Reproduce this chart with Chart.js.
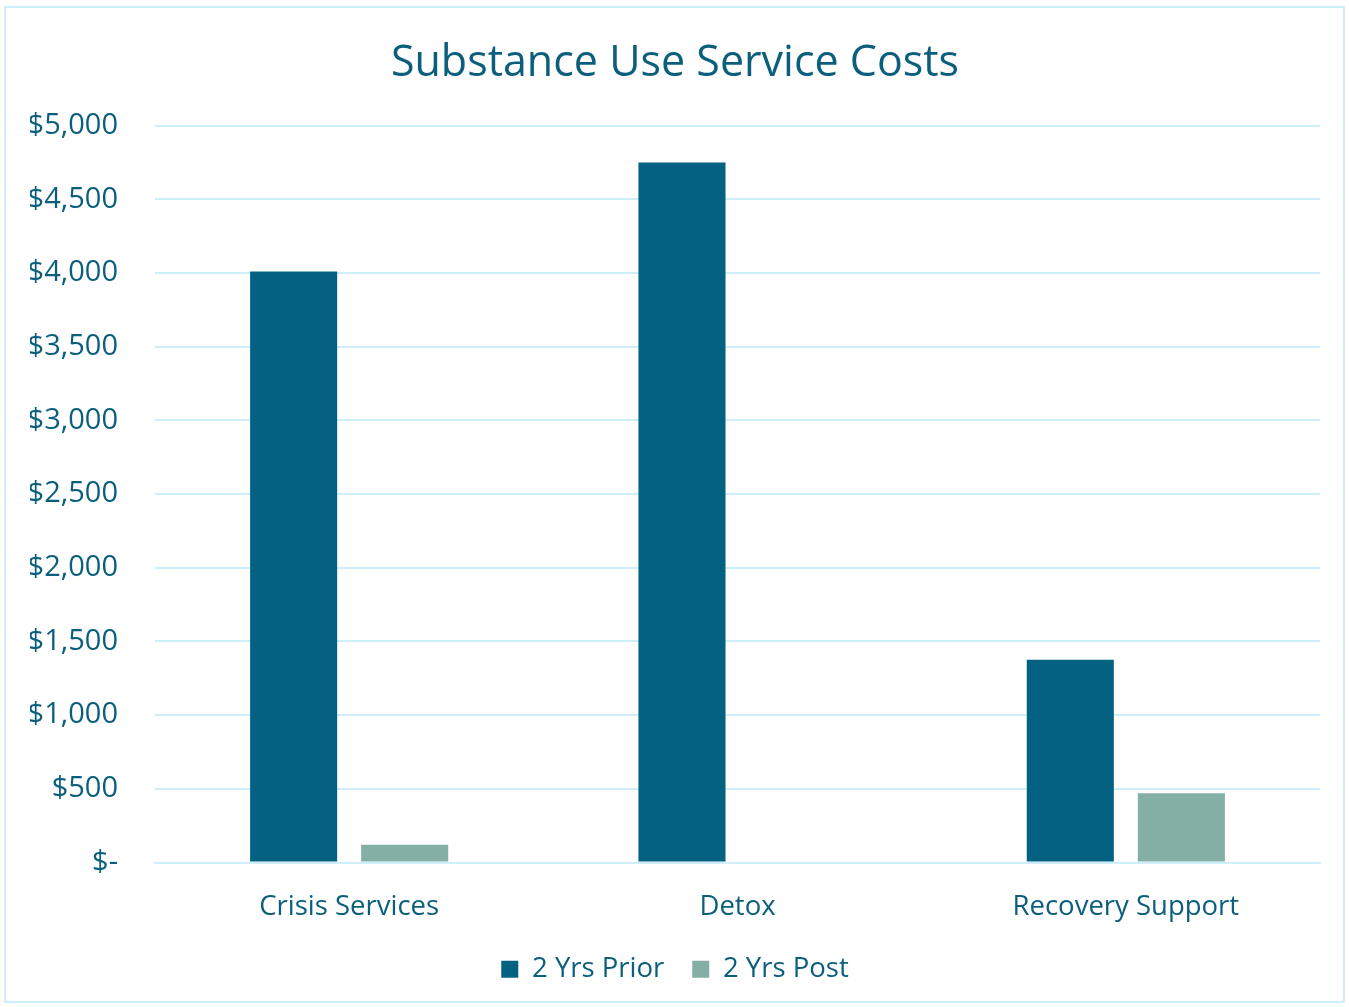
<!DOCTYPE html>
<html>
<head>
<meta charset="utf-8">
<script src="https://cdn.jsdelivr.net/npm/chart.js@4.4.0/dist/chart.umd.min.js"></script>
<style>
  html, body { margin: 0; padding: 0; background: #fff; }
  #wrap {
    position: absolute; left: 4px; top: 6px;
    width: 1341px; height: 997px;
    border: 2px solid #cdeefa;
    box-sizing: border-box;
  }
  canvas { display: block; }
</style>
</head>
<body>
<div id="wrap"><canvas id="costChart"></canvas></div>
<script>
// chart data
var categories = ["Crisis Services", "Detox", "Recovery Support"];
var priorValues = [4010, 4750, 1375];
var postValues = [120, 0, 470];
var seriesNames = ["2 Yrs Prior", "2 Yrs Post"];

var textColor = "#0b5f7d";
var gridColor = "#cdeefa";

document.addEventListener("DOMContentLoaded", function () {
  var ctx = document.getElementById("costChart").getContext("2d");
  Chart.defaults.font.family = "'Open Sans', 'Noto Sans', sans-serif";

  new Chart(ctx, {
    type: "bar",
    data: {
      labels: categories,
      datasets: [
        {
          label: seriesNames[0],
          data: priorValues,
          backgroundColor: "#036282",
          borderWidth: 0,
        },
        {
          label: seriesNames[1],
          data: postValues,
          backgroundColor: "#84afa5",
          borderWidth: 0,
        },
      ],
    },
    options: {
      responsive: true,
      maintainAspectRatio: false,
      animation: false,
      categoryPercentage: 0.572,
      barPercentage: 0.784,
      layout: { padding: { left: 24, right: 23, top: 20, bottom: 8 } },
      plugins: {
        title: {
          display: true,
          text: "Substance Use Service Costs",
          color: textColor,
          font: { size: 43, weight: "normal" },
          padding: { top: 10, bottom: 36 },
        },
        legend: {
          position: "bottom",
          labels: {
            color: textColor,
            font: { size: 27.5 },
            boxWidth: 17,
            boxHeight: 17,
            padding: 28,
          },
        },
        tooltip: { enabled: false },
      },
      scales: {
        x: {
          grid: { display: false },
          border: { color: gridColor, width: 2 },
          afterFit: function (scale) {
            scale.height -= 16;
          },
          ticks: { color: textColor, font: { size: 27.5 }, padding: 20 },
        },
        y: {
          min: 0,
          max: 5000,
          grid: { color: gridColor, lineWidth: 2, drawTicks: false },
          border: { display: false },
          afterFit: function (scale) {
            scale.width = 125;
          },
          ticks: {
            stepSize: 500,
            color: textColor,
            font: { size: 29 },
            padding: 37,
            callback: function (value) {
              if (value === 0) return "$-";
              return "$" + value.toLocaleString("en-US");
            },
          },
        },
      },
    },
  });
});
</script>
</body>
</html>
